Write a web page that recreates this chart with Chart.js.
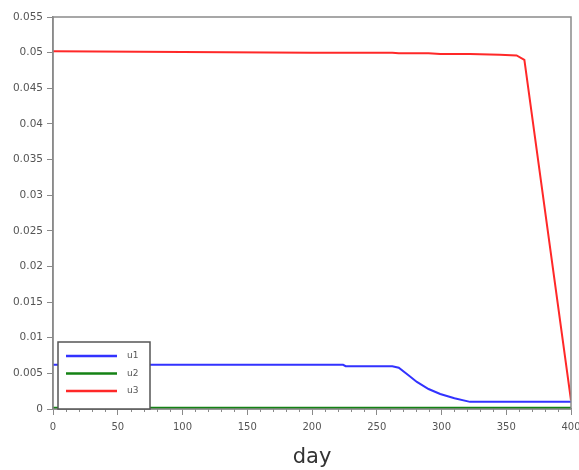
<!DOCTYPE html>
<html>
<head>
<meta charset="utf-8">
<script src="https://cdn.jsdelivr.net/npm/chart.js@4.4.1/dist/chart.umd.min.js"></script>
<style>
  html, body { margin: 0; padding: 0; background: #fff; }
  #wrap { width: 579px; height: 470px; }
</style>
</head>
<body>
<div id="wrap"><canvas id="myChart" width="579" height="470"></canvas></div>
<script>
// values
var days = [0, 100, 200, 224, 226, 262, 267, 274, 281, 290, 299, 310, 322, 345, 358, 364, 400];
var u1 = [0.0062, 0.0062, 0.0062, 0.0062, 0.0060, 0.0060, 0.0058, 0.0048, 0.0038, 0.0028, 0.0021, 0.0015, 0.0010, 0.0010, 0.0010, 0.0010, 0.0010];
var u2 = [0.0001, 0.0001, 0.0001, 0.0001, 0.0001, 0.0001, 0.0001, 0.0001, 0.0001, 0.0001, 0.0001, 0.0001, 0.0001, 0.0001, 0.0001, 0.0001, 0.0001];
var u3 = [0.0502, 0.0501, 0.0500, 0.0500, 0.0500, 0.0500, 0.0499, 0.0499, 0.0499, 0.0499, 0.0498, 0.0498, 0.0498, 0.0497, 0.0496, 0.0490, 0.0012];
var seriesNames = ['u1', 'u2', 'u3'];
var seriesColors = ['rgb(50,50,255)', 'rgb(20,130,20)', 'rgb(255,40,40)'];
var seriesWidths = [2, 3, 2];

function pts(vals) {
  var out = [];
  for (var i = 0; i < days.length; i++) out.push({x: days[i], y: vals[i]});
  return out;
}

var allVals = [u1, u2, u3];
var datasets = [];
for (var k = 0; k < 3; k++) {
  datasets.push({
    label: seriesNames[k],
    data: pts(allVals[k]),
    borderColor: seriesColors[k],
    backgroundColor: seriesColors[k],
    borderWidth: seriesWidths[k],
    pointRadius: 0,
    tension: 0,
    fill: false
  });
}

var axisGray = '#8a8a8a';
var fam = '"DejaVu Sans", Verdana, sans-serif';

// frame, minor ticks and the boxed legend in the lower left corner
var extras = {
  id: 'extras',
  afterDraw: function(chart) {
    var c = chart.ctx, a = chart.chartArea, xs = chart.scales.x;
    c.save();
    c.strokeStyle = axisGray;
    c.lineWidth = 1.5;
    c.strokeRect(a.left, a.top, a.right - a.left, a.bottom - a.top);
    c.lineWidth = 1;
    for (var d = 0; d <= 400; d += 10) {
      if (d % 50 === 0) continue;
      var px = Math.round(xs.getPixelForValue(d)) + 0.5;
      c.beginPath();
      c.moveTo(px, a.bottom);
      c.lineTo(px, a.bottom + 3);
      c.stroke();
    }
    // legend box
    var bx = a.left + 5, by = a.bottom - 67, bw = 92, bh = 67;
    c.fillStyle = '#fff';
    c.fillRect(bx, by, bw, bh);
    c.strokeStyle = '#555';
    c.lineWidth = 1.5;
    c.strokeRect(bx, by, bw, bh);
    c.font = '9px ' + fam;
    c.textBaseline = 'middle';
    for (var i = 0; i < seriesNames.length; i++) {
      var ly = by + 14 + i * 17.5;
      c.strokeStyle = seriesColors[i];
      c.lineWidth = 2.5;
      c.beginPath();
      c.moveTo(bx + 8, ly);
      c.lineTo(bx + 59, ly);
      c.stroke();
      c.fillStyle = '#555';
      c.fillText(seriesNames[i], bx + 69, ly);
    }
    c.restore();
  }
};

var ctx = document.getElementById('myChart').getContext('2d');
var myLineChart = new Chart(ctx, {
  type: 'line',
  data: { datasets: datasets },
  options: {
    responsive: false,
    animation: false,
    layout: { padding: { top: 17, right: 0, left: 0, bottom: 0 } },
    plugins: { legend: { display: false }, tooltip: { enabled: false } },
    scales: {
      x: {
        type: 'linear',
        min: 0, max: 400,
        afterFit: function(s) { s.height = 61; s.paddingRight = 8; s.paddingLeft = 0; },
        border: { color: axisGray, width: 1.5 },
        grid: { drawOnChartArea: false, tickLength: 6, color: axisGray },
        ticks: {
          stepSize: 50,
          maxRotation: 0,
          padding: 6,
          color: '#555',
          font: { size: 10, family: fam }
        },
        title: {
          display: true,
          text: 'day',
          color: '#333',
          padding: { top: 4, bottom: 0 },
          font: { size: 21, family: fam }
        }
      },
      y: {
        min: 0, max: 0.055,
        afterFit: function(s) { s.width = 53; },
        border: { color: axisGray, width: 1.5 },
        grid: { drawOnChartArea: false, tickLength: 6, color: axisGray },
        ticks: {
          stepSize: 0.005,
          padding: 4,
          color: '#555',
          font: { size: 10.5, family: fam },
          callback: function(v) { return String(parseFloat(v.toFixed(3))); }
        }
      }
    }
  },
  plugins: [extras]
});
</script>
</body>
</html>
